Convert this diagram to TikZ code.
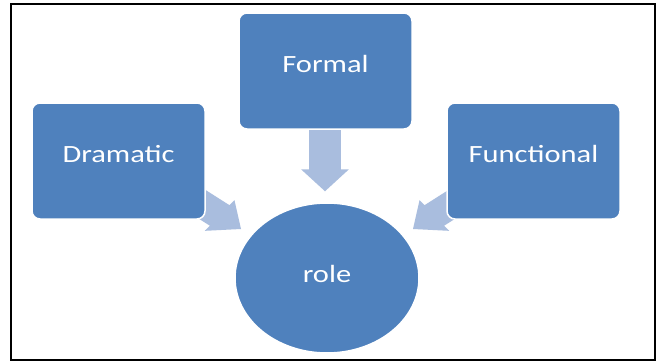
\documentclass[tikz,border=0pt]{standalone}
\usepackage{fontspec}
\setmainfont{Carlito}
\usetikzlibrary{shapes.geometric,calc,backgrounds}
\definecolor{boxblue}{HTML}{4F81BD}
\definecolor{arrowblue}{HTML}{A9BDDE}
\tikzset{
  blockarrow/.pic={\fill[arrowblue] (0,0) -- (-22,-19.5) -- (-22,-13) -- (-63,-13) -- (-63,13) -- (-22,13) -- (-22,19.5) -- cycle;},
  boxnode/.style={rectangle, rounded corners=8pt, fill=boxblue, draw=white, line width=1.5pt,
    minimum width=173pt, minimum height=116pt, inner sep=0pt, text=white,
    font=\fontsize{24.8}{28}\selectfont, text height=15pt, text depth=12pt},
  rolenode/.style={ellipse, fill=boxblue, draw=white, line width=1.5pt,
    minimum width=184pt, minimum height=150pt, inner sep=0pt, text=white,
    font=\fontsize{24.8}{28}\selectfont, text height=16pt, text depth=8pt},
  frameline/.style={draw=black, line width=2.2pt}
}
\newcommand{\wide}[1]{\scalebox{1.23}[1]{#1}}
\begin{document}
\begin{tikzpicture}[x=1pt,y=-1pt]
\useasboundingbox (0,0) rectangle (657,362);
\node[boxnode] (formal) at (325.5,71) {\wide{Formal}};
\node[boxnode] (dramatic) at (118.5,161) {\wide{Dramatic}};
\node[boxnode] (functional) at (533.5,161) {\wide{Functional}};
\node[rolenode] (role) at (327,278) {\wide{role}};
\begin{scope}[on background layer]
  \fill[white] (0,0) rectangle (657,362);
  \pic[xscale=1.23, rotate=-90] at ($(role.north)+(-2,-11)$) {blockarrow};
  \pic[xscale=1.23, rotate=-38] at ($(role.center)+(-86,-49)$) {blockarrow};
  \pic[xscale=1.23, rotate=-142] at ($(role.center)+(86,-49)$) {blockarrow};
\end{scope}
\draw[frameline] (11,4) rectangle (655,360);
\end{tikzpicture}
\end{document}
